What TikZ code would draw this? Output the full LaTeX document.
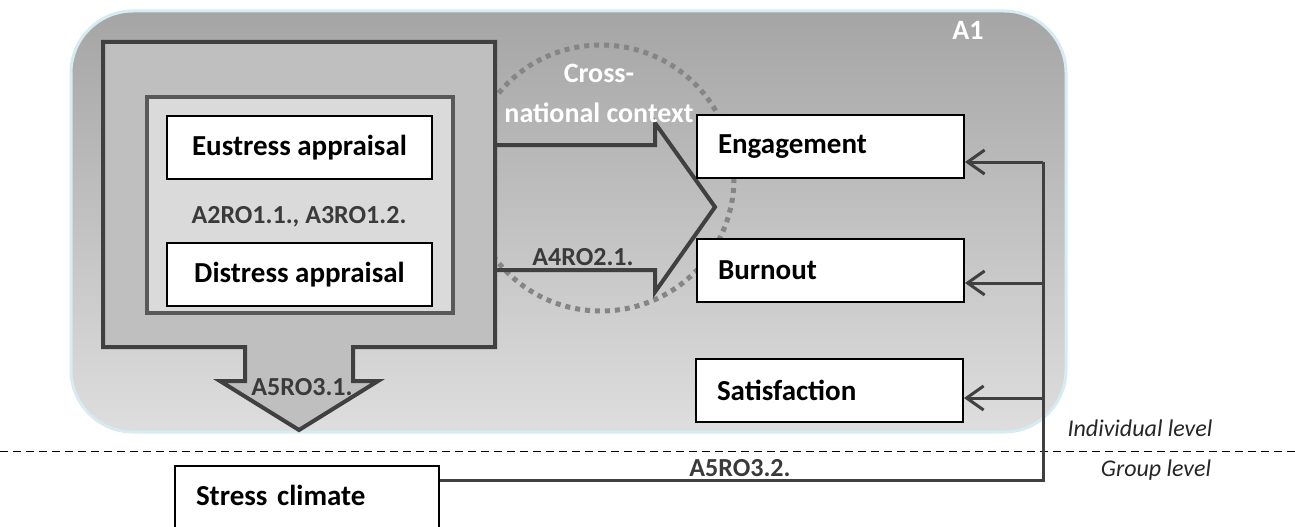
\documentclass[tikz,border=0pt]{standalone}
\usepackage{fontspec}
\setmainfont{Carlito}
\usetikzlibrary{arrows.meta}
\definecolor{framegray}{HTML}{404040}
\definecolor{innergray}{HTML}{595959}
\definecolor{boxfill}{HTML}{BFBFBF}
\definecolor{innerfill}{HTML}{DADADA}
\definecolor{dotgray}{HTML}{858585}
\definecolor{bgtop}{HTML}{A5A5A5}
\definecolor{bgbot}{HTML}{DEDEDE}
\definecolor{bluebord}{HTML}{D6EBF3}
\definecolor{labgray}{HTML}{3A3A3A}
\tikzset{
  whitebox/.style={draw=black, fill=white, line width=2pt, minimum height=63pt, font=\fontsize{29}{32}\selectfont\bfseries},
  leftbox/.style={whitebox, align=left, inner xsep=21pt, text width=225pt},
  lab/.style={text=labgray, font=\fontsize{26}{28}\selectfont\bfseries, inner sep=0pt},
  wlab/.style={text=white, font=\fontsize{28}{30}\selectfont\bfseries, inner sep=0pt},
  lvl/.style={text=black!85, font=\fontsize{24}{26}\selectfont\itshape, inner sep=0pt},
  conn/.style={draw=framegray, line width=3pt},
  connarr/.style={conn, -{Straight Barb[length=17pt,width=24pt,line width=3pt]}},
}
\begin{document}
\begin{tikzpicture}[x=1pt,y=-1pt]
\useasboundingbox (0,0) rectangle (1295,527);
\clip (0,0) rectangle (1295,527);
% background region
\shade[top color=bgtop, bottom color=bgbot, rounded corners=62pt]
  (71,11) rectangle (1066,432);
\draw[bluebord, line width=3pt, rounded corners=62pt] (71,11) rectangle (1066,432);
% cross-national circle
\draw[dotgray, line width=5pt, dash pattern=on 5pt off 5pt] (601,178) circle[radius=133];
% big box with down arrow
\draw[framegray, fill=boxfill, line width=4pt, line join=miter]
  (103,42) -- (495,42) -- (495,347) -- (353,347) -- (353,381) -- (378,381)
  -- (299,430) -- (220,381) -- (245,381) -- (245,347) -- (103,347) -- cycle;
% right arrow
\draw[framegray, line width=4pt, line join=miter]
  (495,145) -- (655,145) -- (655,123) -- (715,207) -- (655,292) -- (655,270) -- (495,270);
% inner box
\draw[innergray, fill=innerfill, line width=4pt] (147,97) rectangle (453,313);
% nodes
\node[whitebox, minimum width=265pt, anchor=north west] (eu) at (166,115) {Eustress appraisal};
\node[whitebox, minimum width=265pt, anchor=north west] (di) at (166,242) {Distress appraisal};
\node[leftbox, anchor=north west] (eng) at (696,114) {Engagement};
\node[leftbox, anchor=north west] (bur) at (696,238) {Burnout};
\node[leftbox, anchor=north west] (sat) at (695,358) {Satisfaction};
\node[whitebox, align=left, inner xsep=21pt, inner ysep=0pt, text width=222pt,
      text height=39pt, text depth=40pt, anchor=north west] (stress) at (174,465) {Stress climate};
% labels
\node[lab] (l1) at (299,217) {A2RO1.1., A3RO1.2.};
\node[lab] (l2) at (583,257) {A4RO2.1.};
\node[lab] (l3) at (302,387) {A5RO3.1.};
\node[lab] (l4) at (740,468) {A5RO3.2.};
\node[wlab] (c1) at (599,73) {Cross-};
\node[wlab] (c2) at (599,113) {national context};
\node[wlab] (a1) at (968,30) {A1};
\node[lvl] (ind) at (1140,428) {Individual level};
\node[lvl] (grp) at (1156,470) {Group level};
% level divider
\draw[black, line width=1pt, dash pattern=on 8pt off 5pt] (0,451) -- (1295,451);
% connectors
\coordinate (jE) at (1043,162);
\coordinate (jB) at (1043,283);
\coordinate (jS) at (1043,398);
\draw[conn] ([yshift=-15pt]stress.north east) -| (jE);
\draw[connarr] (jE) -- (jE -| eng.east);
\draw[connarr] (jB) -- (jB -| bur.east);
\draw[connarr] (jS) -- (jS -| sat.east);
\end{tikzpicture}
\end{document}
